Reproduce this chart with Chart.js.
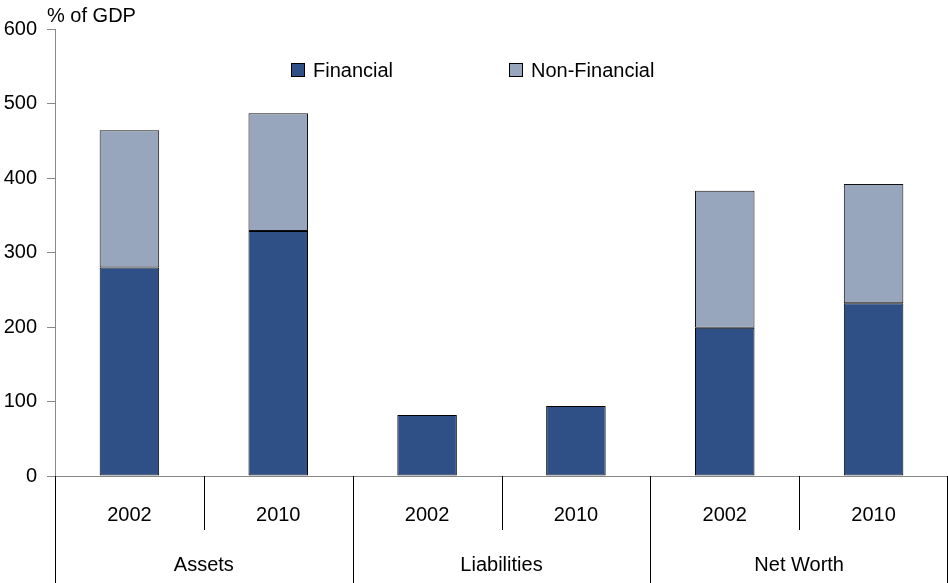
<!DOCTYPE html>
<html>
<head>
<meta charset="utf-8">
<script src="https://cdn.jsdelivr.net/npm/chart.js@4"></script>
<style>
  body { margin: 0; background: #fff; }
</style>
</head>
<body>
<canvas id="chart" width="948" height="583"></canvas>
<script>
// Data
const years = ['2002', '2010', '2002', '2010', '2002', '2010'];
const groups = ['Assets', 'Liabilities', 'Net Worth'];
const financial = [280, 329, 82, 94, 199, 232];
const nonFinancial = [184, 158, null, null, 184, 160];
const seriesNames = ['Financial', 'Non-Financial'];
const seriesColors = ['#2F5087', '#97A6BC'];

const FONT = '"Liberation Sans", Arial, sans-serif';
const AXIS_GRAY = '#888888';

// Two-level category labels under the x axis
const groupAxis = {
    id: 'groupAxis',
    afterDraw(chart) {
        let ctx = chart.ctx;
        let xs = chart.scales.x;
        let top = xs.top;
        let bottom = chart.height;
        ctx.save();
        ctx.strokeStyle = '#000';
        ctx.lineWidth = 1;
        for (let i = 0; i <= years.length; i++) {
            let px;
            if (i === 0) px = xs.left;
            else if (i === years.length) px = xs.right - 1;
            else px = (xs.getPixelForValue(i - 1) + xs.getPixelForValue(i)) / 2;
            let long = i % 2 === 0;
            ctx.beginPath();
            ctx.moveTo(Math.round(px) + 0.5, top);
            ctx.lineTo(Math.round(px) + 0.5, long ? bottom : top + 54);
            ctx.stroke();
        }
        ctx.fillStyle = '#000';
        ctx.font = '20px ' + FONT;
        ctx.textAlign = 'center';
        ctx.textBaseline = 'middle';
        for (let i = 0; i < years.length; i++) {
            ctx.fillText(years[i], xs.getPixelForValue(i), top + 39);
        }
        for (let g = 0; g < groups.length; g++) {
            let cx = (xs.getPixelForValue(2 * g) + xs.getPixelForValue(2 * g + 1)) / 2;
            ctx.fillText(groups[g], cx, top + 89);
        }
        ctx.restore();
    }
};

// Legend and unit label drawn inside the plot
const extras = {
    id: 'extras',
    afterDraw(chart) {
        let ctx = chart.ctx;
        ctx.save();
        ctx.font = '20px ' + FONT;
        ctx.textBaseline = 'middle';
        ctx.textAlign = 'left';
        ctx.fillStyle = '#000';
        ctx.fillText('% of GDP', 47, 16);

        let legendX = [291, 509];
        for (let i = 0; i < seriesNames.length; i++) {
            ctx.fillStyle = seriesColors[i];
            ctx.fillRect(legendX[i], 63, 14, 14);
            ctx.strokeStyle = '#000';
            ctx.lineWidth = 1;
            ctx.strokeRect(legendX[i] + 0.5, 63.5, 13, 13);
            ctx.fillStyle = '#000';
            ctx.fillText(seriesNames[i], legendX[i] + 22, 71);
        }
        ctx.restore();
    }
};

let ctx = document.getElementById('chart').getContext('2d');
let chart = new Chart(ctx, {
    type: 'bar',
    data: {
        labels: years.map((y, i) => groups[Math.floor(i / 2)] + ' ' + y),
        datasets: [
            {
                label: seriesNames[0],
                data: financial,
                backgroundColor: seriesColors[0],
                borderColor: '#000',
                borderWidth: 1,
                borderSkipped: false
            },
            {
                label: seriesNames[1],
                data: nonFinancial,
                backgroundColor: seriesColors[1],
                borderColor: '#111',
                borderWidth: 1,
                borderSkipped: false
            }
        ]
    },
    options: {
        responsive: false,
        animation: false,
        layout: { padding: { top: 29, right: 0, bottom: 0, left: 0 } },
        datasets: {
            bar: { categoryPercentage: 1.0, barPercentage: 0.4 }
        },
        plugins: {
            legend: { display: false },
            title: { display: false },
            tooltip: { enabled: false }
        },
        scales: {
            x: {
                stacked: true,
                offset: true,
                grid: { display: false },
                ticks: { display: false },
                border: { display: true, color: AXIS_GRAY, width: 1 },
                afterFit: function(scale) { scale.height = 107; }
            },
            y: {
                stacked: true,
                min: 0,
                max: 600,
                ticks: {
                    stepSize: 100,
                    color: '#000',
                    padding: 10,
                    font: { family: FONT, size: 20 }
                },
                grid: {
                    drawOnChartArea: false,
                    drawTicks: true,
                    tickLength: 8,
                    color: AXIS_GRAY
                },
                border: { display: true, color: AXIS_GRAY, width: 1 },
                afterFit: function(scale) { scale.width = 55; }
            }
        }
    },
    plugins: [groupAxis, extras]
});
</script>
</body>
</html>
